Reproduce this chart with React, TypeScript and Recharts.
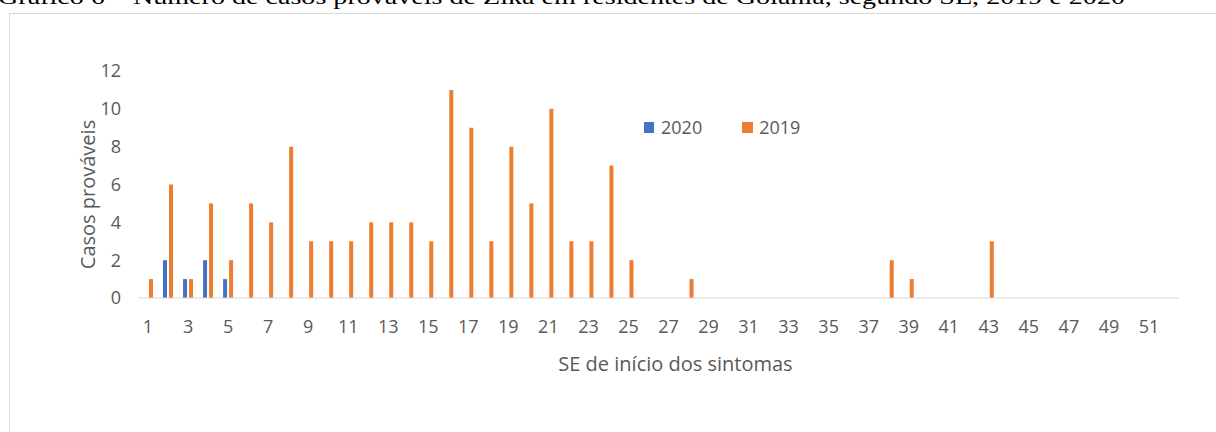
import React from "react";
import { BarChart, Bar, XAxis, YAxis } from "recharts";

// semanas epidemiológicas 1..52
const semanas = Array.from({ length: 52 }, (_, i) => String(i + 1));

const casos2019 = [
  1, 6, 1, 5, 2, 5, 4, 8, 3, 3, 3, 4, 4, 4, 3, 11, 9, 3, 8, 5, 10, 3, 3, 7, 2, 0,
  0, 1, 0, 0, 0, 0, 0, 0, 0, 0, 0, 2, 1, 0, 0, 0, 3, 0, 0, 0, 0, 0, 0, 0, 0, 0,
];

const casos2020 = [
  null, 2, 1, 2, 1, null, null, null, null, null, null, null, null, null, null, null, null, null,
  null, null, null, null, null, null, null, null, null, null, null, null, null, null, null, null, null, null,
  null, null, null, null, null, null, null, null, null, null, null, null, null, null, null, null,
];

const yTicks = [0, 2, 4, 6, 8, 10, 12];

const TITULO =
  "Gráfico 6 – Número de casos prováveis de Zika em residentes de Goiânia, segundo SE, 2019 e 2020";

const AZUL = "#4472C4";
const LARANJA = "#ED7D31";
const TXT = "#595959";
const FONT = "'Open Sans', 'Noto Sans', sans-serif";

const data = semanas.map((se, i) => ({
  se,
  a2020: casos2020[i],
  a2019: casos2019[i],
}));

export default function App() {
  return (
    <div
      style={{
        position: "fixed",
        top: 0,
        left: 0,
        width: 1216,
        height: 432,
        overflow: "hidden",
        background: "#fff",
      }}
    >
      <svg width={1216} height={20} style={{ position: "absolute", top: 0, left: 0 }}>
        <text
          x={-2}
          y={4}
          textLength={1127}
          lengthAdjust="spacingAndGlyphs"
          style={{ fontFamily: "'Liberation Serif', serif", fontSize: 21, fill: "#000" }}
        >
          {TITULO}
        </text>
      </svg>
      <div
        style={{
          position: "absolute",
          left: 9,
          top: 13,
          width: 1230,
          height: 440,
          border: "1px solid #d9d9d9",
        }}
      />
      <div style={{ position: "absolute", top: 0, left: 0 }}>
        <BarChart
          width={1216}
          height={432}
          data={data}
          margin={{ top: 71, right: 37, bottom: 0, left: 0 }}
          barCategoryGap={5}
          barGap={2}
        >
          <XAxis
            dataKey="se"
            interval={1}
            height={134}
            tickSize={0}
            tickMargin={22}
            axisLine={{ stroke: "#d9d9d9" }}
            tick={{ fill: TXT, fontFamily: FONT, fontSize: 18 }}
            label={{
              value: "SE de início dos sintomas",
              position: "insideTop",
              offset: 59,
              dx: 17,
              style: { fill: TXT, fontFamily: FONT, fontSize: 20 },
            }}
          />
          <YAxis
            width={138}
            domain={[0, 12]}
            ticks={yTicks}
            tickSize={0}
            tickMargin={17}
            axisLine={false}
            tick={{ fill: TXT, fontFamily: FONT, fontSize: 18 }}
            label={{
              value: "Casos prováveis",
              angle: -90,
              position: "center",
              dx: 19,
              dy: 10,
              style: { fill: TXT, fontFamily: FONT, fontSize: 20, textAnchor: "middle" },
            }}
          />
          <Bar dataKey="a2020" name="2020" fill={AZUL} isAnimationActive={false} />
          <Bar dataKey="a2019" name="2019" fill={LARANJA} isAnimationActive={false} />
        </BarChart>
      </div>
      {/* legenda fora do gráfico para não roubar altura da área de plotagem */}
      <div
        style={{
          position: "absolute",
          top: 115,
          left: 644,
          display: "flex",
          alignItems: "center",
          fontFamily: FONT,
          fontSize: 18,
          color: TXT,
          whiteSpace: "nowrap",
        }}
      >
        <span style={{ width: 10, height: 11, background: AZUL, display: "inline-block", marginRight: 7 }} />
        <span style={{ marginRight: 40 }}>2020</span>
        <span style={{ width: 11, height: 11, background: LARANJA, display: "inline-block", marginRight: 6 }} />
        <span>2019</span>
      </div>
    </div>
  );
}
